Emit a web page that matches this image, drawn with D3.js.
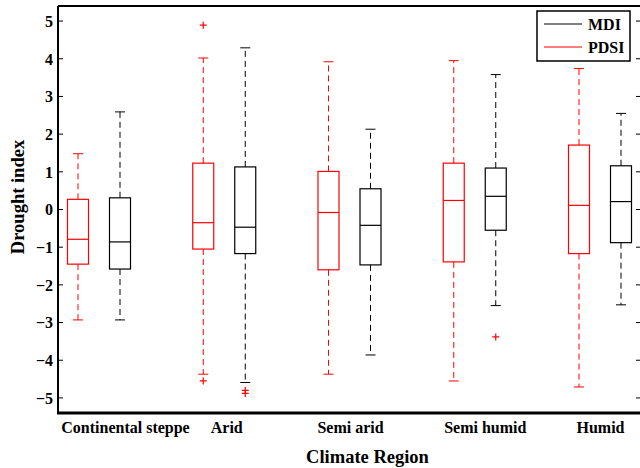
<!DOCTYPE html>
<html>
<head>
<meta charset="utf-8">
<script src="https://cdn.jsdelivr.net/npm/d3@7"></script>
<style>
  html, body { margin: 0; padding: 0; background: #fff; }
  svg { display: block; }
  text { font-family: "Liberation Serif", "Times New Roman", serif; font-weight: bold; fill: #000; }
</style>
</head>
<body>
<svg id="chart" width="640" height="468"></svg>
<script>
// ---- data ----
const categories = ["Continental steppe", "Arid", "Semi arid", "Semi humid", "Humid"];
const seriesNames = ["MDI", "PDSI"];
// [lowerWhisker, Q1, median, Q3, upperWhisker]
const pdsiStats = [
  [-2.93, -1.45, -0.79, 0.27, 1.48],
  [-4.37, -1.05, -0.35, 1.23, 4.02],
  [-4.37, -1.60, -0.08, 1.01, 3.92],
  [-4.55, -1.39, 0.24, 1.23, 3.95],
  [-4.71, -1.17, 0.11, 1.71, 3.74]
];
const mdiStats = [
  [-2.93, -1.58, -0.86, 0.31, 2.59],
  [-4.59, -1.17, -0.47, 1.13, 4.29],
  [-3.86, -1.47, -0.42, 0.55, 2.13],
  [-2.55, -0.55, 0.35, 1.10, 3.58],
  [-2.53, -0.88, 0.21, 1.16, 2.55]
];
const pdsiOutliers = [[], [4.89, -4.55], [], [], []];
const mdiOutliers = [[], [-4.80, -4.88], [], [-3.38], []];
const yTicks = [-5, -4, -3, -2, -1, 0, 1, 2, 3, 4, 5];

// ---- layout ----
const svg = d3.select("#chart");
const M = { left: 58, right: 641, top: 6, bottom: 413 };
const y = d3.scaleLinear().domain([-5.4, 5.4]).range([M.bottom, M.top]);
const x = d3.scaleLinear().domain([0, 4]).range([99, 600]);
const pairOffset = 21, boxW = 21, capW = 10;
const labelShift = [26.5, 2.5, 1, 10.5, 0.5];
const RED = "#ff0000";

function drawBox(stats, outs, cx, color) {
  const g = svg.append("g");
  const [lo, q1, med, q3, hi] = stats;
  g.append("line").attr("x1", cx).attr("x2", cx).attr("y1", y(q3)).attr("y2", y(hi))
    .attr("stroke", color).attr("stroke-width", 1).attr("stroke-dasharray", "6,4");
  g.append("line").attr("x1", cx).attr("x2", cx).attr("y1", y(q1)).attr("y2", y(lo))
    .attr("stroke", color).attr("stroke-width", 1).attr("stroke-dasharray", "6,4");
  [lo, hi].forEach(v => g.append("line").attr("x1", cx - capW / 2).attr("x2", cx + capW / 2)
    .attr("y1", y(v)).attr("y2", y(v)).attr("stroke", color).attr("stroke-width", 1));
  g.append("rect").attr("x", cx - boxW / 2).attr("y", y(q3)).attr("width", boxW)
    .attr("height", y(q1) - y(q3)).attr("fill", "none").attr("stroke", color).attr("stroke-width", 1.2);
  g.append("line").attr("x1", cx - boxW / 2).attr("x2", cx + boxW / 2)
    .attr("y1", y(med)).attr("y2", y(med)).attr("stroke", color).attr("stroke-width", 1.2);
  outs.forEach(v => {
    const py = y(v);
    g.append("path").attr("d", `M${cx - 3.5},${py}H${cx + 3.5}M${cx},${py - 3.5}V${py + 3.5}`)
      .attr("stroke", RED).attr("stroke-width", 1.2).attr("fill", "none");
  });
}

categories.forEach((c, i) => {
  drawBox(pdsiStats[i], pdsiOutliers[i], x(i) - pairOffset, RED);
  drawBox(mdiStats[i], mdiOutliers[i], x(i) + pairOffset, "#000");
});

// axes frame
svg.append("line").attr("x1", M.left).attr("x2", M.right).attr("y1", M.top).attr("y2", M.top)
  .attr("stroke", "#000").attr("stroke-width", 1.8);
svg.append("line").attr("x1", M.left).attr("x2", M.left).attr("y1", M.top).attr("y2", M.bottom)
  .attr("stroke", "#000").attr("stroke-width", 2);
svg.append("line").attr("x1", M.left - 1).attr("x2", M.right).attr("y1", M.bottom).attr("y2", M.bottom)
  .attr("stroke", "#000").attr("stroke-width", 3);

// y ticks (inward), left and right
const yAxisL = d3.axisLeft(y).tickValues(yTicks).tickSize(0).tickPadding(5)
  .tickFormat(d => d < 0 ? "\u2212" + Math.abs(d) : String(d));
const gy = svg.append("g").attr("transform", `translate(${M.left},0)`).call(yAxisL);
gy.select(".domain").remove();
gy.selectAll("text").style("font-size", "16px").attr("dy", "0.33em");
yTicks.forEach(t => {
  svg.append("line").attr("x1", M.left).attr("x2", M.left + 5).attr("y1", y(t)).attr("y2", y(t))
    .attr("stroke", "#000").attr("stroke-width", 1);
  svg.append("line").attr("x1", M.right - 5).attr("x2", M.right).attr("y1", y(t)).attr("y2", y(t))
    .attr("stroke", "#000").attr("stroke-width", 1);
});

// x category labels
categories.forEach((c, i) => {
  svg.append("text").attr("x", x(i) + labelShift[i]).attr("y", 433)
    .attr("text-anchor", "middle").style("font-size", "16px").text(c);
});

// axis titles
svg.append("text").attr("x", 367.5).attr("y", 463).attr("text-anchor", "middle")
  .style("font-size", "18.5px").text("Climate Region");
svg.append("text").attr("transform", "translate(24,197) rotate(-90)").attr("text-anchor", "middle")
  .style("font-size", "18.5px").text("Drought index");

// legend
const lg = svg.append("g");
lg.append("rect").attr("x", 537).attr("y", 11).attr("width", 93).attr("height", 50)
  .attr("fill", "#fff").attr("stroke", "#000").attr("stroke-width", 1.5);
const legendColors = ["#000", RED];
seriesNames.forEach((s, i) => {
  const ly = 24 + i * 23;
  lg.append("line").attr("x1", 544).attr("x2", 582).attr("y1", ly).attr("y2", ly)
    .attr("stroke", legendColors[i]).attr("stroke-width", 1.2);
  lg.append("text").attr("x", 588).attr("y", ly + 6).style("font-size", "16px").text(s);
});
</script>
</body>
</html>
